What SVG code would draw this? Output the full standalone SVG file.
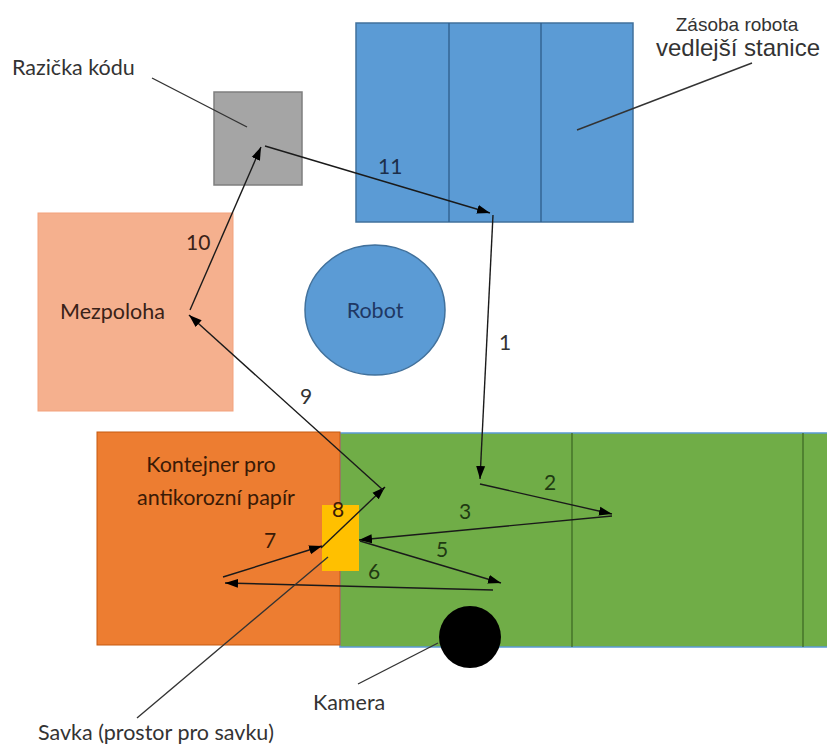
<svg xmlns="http://www.w3.org/2000/svg" width="827" height="745" viewBox="0 0 827 745">
<style>
  .lbl { font-family: Lato, "Noto Sans", "Liberation Sans", sans-serif; font-size: 21.5px; fill: #333333; }
  .num { font-family: Lato, "Noto Sans", "Liberation Sans", sans-serif; font-size: 21px; }
  .arial { font-family: "Liberation Sans", Arial, sans-serif; fill: #333333; }
  .conn { stroke: #1a1a1a; stroke-width: 1.4; fill: none; marker-end: url(#ah); }
  .lead { stroke: #333333; stroke-width: 1.4; fill: none; }
  .div { stroke-width: 1.3; }
</style>
<defs>
  <marker id="ah" markerUnits="userSpaceOnUse" markerWidth="14" markerHeight="10" refX="13" refY="5" orient="auto">
    <path d="M0,0.5 L13,5 L0,9.5 z" fill="#000"/>
  </marker>
</defs>
<rect width="827" height="745" fill="#ffffff"/>

<g id="zasoba">
  <rect x="356" y="23" width="277" height="199" fill="#5b9bd5" stroke="#41719c" stroke-width="1.5"/>
  <line class="div" x1="449" y1="23" x2="449" y2="222" stroke="#2e5c8a"/>
  <line class="div" x1="541" y1="23" x2="541" y2="222" stroke="#2e5c8a"/>
</g>
<g id="zasoba-label">
  <text class="arial" x="737" y="31" font-size="19" text-anchor="middle">Zásoba robota</text>
  <text class="arial" x="738" y="56" font-size="24" text-anchor="middle">vedlejší stanice</text>
</g>

<g id="razicka">
  <rect x="214" y="92" width="88" height="93" fill="#a5a5a5" stroke="#7f7f7f" stroke-width="1.5"/>
</g>
<g id="razicka-label">
  <text class="lbl" x="12" y="75">Razička kódu</text>
</g>

<g id="mezpoloha">
  <rect x="38" y="213" width="195" height="198" fill="#f5b08e" stroke="#f3a27c" stroke-width="1"/>
  <text class="lbl" x="60" y="319" style="fill:#3a2218">Mezpoloha</text>
</g>

<g id="robot">
  <ellipse cx="375" cy="310" rx="70" ry="65" fill="#5b9bd5" stroke="#41719c" stroke-width="1.5"/>
  <text class="lbl" x="375" y="318" text-anchor="middle" style="fill:#1f3864">Robot</text>
</g>

<g id="dopravnik">
  <rect x="340" y="433" width="495" height="214" fill="#70ad47" stroke="#5b9bd5" stroke-width="1.5"/>
  <line class="div" x1="572" y1="433" x2="572" y2="647" stroke="#3f6b26"/>
  <line class="div" x1="803" y1="433" x2="803" y2="647" stroke="#3f6b26"/>
</g>

<g id="kontejner">
  <rect x="97" y="432" width="243" height="213" fill="#ed7d31" stroke="#c55a11" stroke-width="1"/>
  <text class="lbl" x="211" y="472" text-anchor="middle" style="fill:#3a1a06">Kontejner pro</text>
  <text class="lbl" x="216" y="505" text-anchor="middle" style="fill:#3a1a06">antikorozní papír</text>
</g>

<g id="savka">
  <rect x="322" y="505" width="37" height="66" fill="#ffc000"/>
</g>

<g id="kamera">
  <circle cx="470" cy="637" r="31" fill="#000000"/>
</g>

<g id="connectors">
  <line class="conn" x1="265" y1="146" x2="490" y2="213"/>
  <line class="conn" x1="493" y1="215" x2="480" y2="479"/>
  <line class="conn" x1="480" y1="484" x2="612" y2="514"/>
  <line class="conn" x1="612" y1="516" x2="359" y2="540"/>
  <line class="conn" x1="360" y1="541" x2="501" y2="583"/>
  <line class="conn" x1="493" y1="590" x2="225" y2="583"/>
  <line class="conn" x1="223" y1="577" x2="322" y2="546"/>
  <line class="conn" x1="321" y1="548" x2="385" y2="487"/>
  <line class="conn" x1="383" y1="490" x2="189" y2="315"/>
  <line class="conn" x1="190" y1="310" x2="261" y2="147"/>
  <line class="lead" x1="152" y1="78" x2="247" y2="127"/>
  <line class="lead" x1="752" y1="63" x2="577" y2="130"/>
  <line class="lead" x1="328" y1="557" x2="137" y2="718"/>
  <line class="lead" x1="358" y1="684" x2="438" y2="643"/>
</g>

<g id="numbers">
  <text class="num" x="378" y="174" fill="#1c2f4a">11</text>
  <text class="num" x="499" y="350" fill="#333333">1</text>
  <text class="num" x="544" y="490" fill="#1f3a12">2</text>
  <text class="num" x="459" y="519" fill="#1f3a12">3</text>
  <text class="num" x="436" y="557" fill="#1f3a12">5</text>
  <text class="num" x="368" y="579" fill="#1f3a12">6</text>
  <text class="num" x="264" y="548" fill="#3a1a06">7</text>
  <text class="num" x="332" y="517" fill="#3a1a06">8</text>
  <text class="num" x="300" y="404" fill="#333333">9</text>
  <text class="num" x="186" y="250" fill="#3a2218">10</text>
</g>

<g id="labels">
  <text class="lbl" x="38" y="740">Savka (prostor pro savku)</text>
  <text class="lbl" x="313" y="710">Kamera</text>
</g>
</svg>
